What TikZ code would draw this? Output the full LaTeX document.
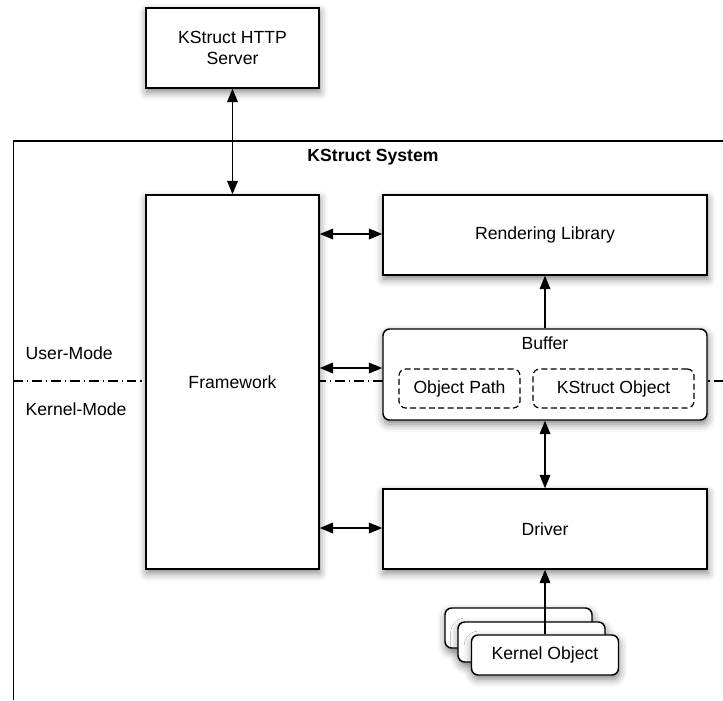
\documentclass[tikz,border=0pt]{standalone}
\usepackage{fontspec}
\setmainfont{Liberation Sans}
\usetikzlibrary{arrows.meta,shadows.blur}
\begin{document}
\begin{tikzpicture}[x=0.75pt,y=-0.75pt,
  every node/.style={font=\fontsize{13.2}{16}\selectfont},
  sz/.style 2 args={minimum width=#1*0.75pt, minimum height=#2*0.75pt},
  box/.style={draw, line width=1.1pt, fill=white, inner sep=0pt, align=center,
    blur shadow={shadow xshift=0.5pt, shadow yshift=-3pt, shadow blur radius=6pt, shadow opacity=50}},
  rbox/.style={box, rounded corners=5pt},
  dbox/.style={draw, line width=0.9pt, fill=white, inner sep=0pt, rounded corners=5pt, dash pattern=on 4.5pt off 2.5pt},
  dbl/.style={{Triangle[length=10pt,width=8pt]}-{Triangle[length=10pt,width=8pt]}, line width=0.9pt},
  sgl/.style={-{Triangle[length=10pt,width=8pt]}, line width=0.9pt},
  modeline/.style={line width=0.8pt, dash pattern=on 7pt off 3pt on 1.2pt off 3pt},
]
\useasboundingbox (0,0) rectangle (723,700);

% system frame
\coordinate (sysbl) at (13.5,700);
\coordinate (systl) at (13.5,141);
\coordinate (systr) at (723,141);
\draw[line width=1pt] (sysbl) -- (systl) -- (systr);
\node[font=\fontsize{13.2}{16}\selectfont\bfseries] (systitle) at (373,157) {KStruct System};

% mode separator
\coordinate (ml) at (13.5,381);
\coordinate (mr) at (723,381);
\draw[modeline] (ml) -- (mr);
\node[anchor=west] (usermode) at (21,353) {User-Mode};
\node[anchor=west] (kernelmode) at (21,409) {Kernel-Mode};

% nodes
\node[box, sz={173}{80}] (server) at (232.5,48) {KStruct HTTP\\Server};
\node[box, sz={173}{374}] (fw) at (232.5,382) {Framework};
\node[box, sz={324}{80}] (render) at (545,235) {Rendering Library};
\node[rbox, sz={324}{91}] (buffer) at (545,374.5) {};
\node (buftitle) at (545,343) {Buffer};
\node[dbox, sz={121}{39}] (objpath) at (459.5,388.5) {Object Path};
\node[dbox, sz={161}{39}] (kobj) at (613.5,388.5) {KStruct Object};
\node[box, sz={324}{80}] (driver) at (545,529) {Driver};
\node[rbox, sz={147}{40}] (kback) at (518.5,628) {};
\node[rbox, sz={147}{40}] (kmid) at (531.5,642) {};
\node[rbox, sz={147}{40}] (kfront) at (545,655) {Kernel Object};

% connectors
\draw[dbl] (server.south) -- (fw.north);
\draw[dbl] (fw.east |- 0,234) -- (render.west |- 0,234);
\draw[dbl] (fw.east |- 0,368) -- (buffer.west |- 0,368);
\draw[dbl] (fw.east |- 0,528) -- (driver.west |- 0,528);
\draw[sgl] (buffer.north) -- (render.south);
\draw[dbl] (buffer.south) -- (driver.north);
\draw[sgl] (kfront.north) -- (driver.south);
\end{tikzpicture}
\end{document}
